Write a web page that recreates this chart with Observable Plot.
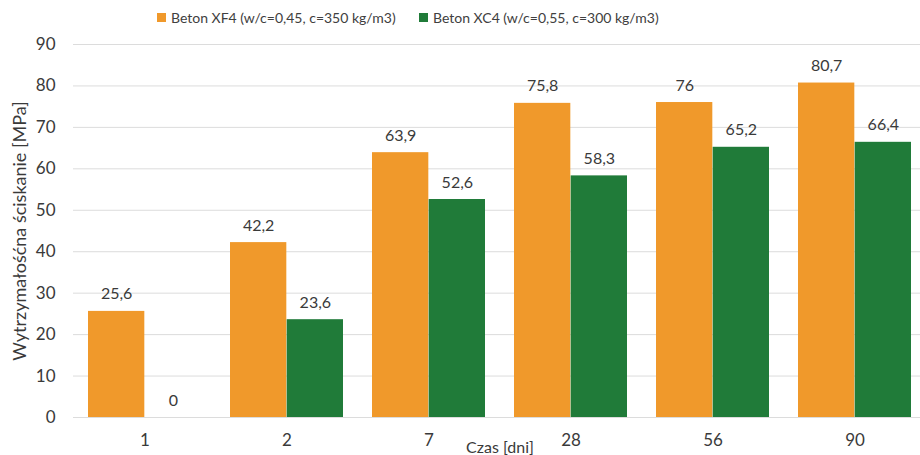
<!DOCTYPE html>
<html><head><meta charset="utf-8">
<script src="https://cdn.jsdelivr.net/npm/d3@7"></script>
<script src="https://cdn.jsdelivr.net/npm/@observablehq/plot@0.6"></script>
<style>
body{margin:0;background:#fff;font-family:Lato,"Open Sans",sans-serif;}
#legend{height:26px;position:relative;font-size:14px;color:#404040;width:920px;}
.item{position:absolute;top:9px;display:flex;align-items:center;white-space:nowrap;}
.sw{width:9px;height:9px;margin-right:5px;}
</style></head><body>
<div id="legend"></div><div id="chart"></div>
<script>
const days = ["1", "2", "7", "28", "56", "90"];
const seriesNames = ["Beton XF4 (w/c=0,45, c=350 kg/m3)", "Beton XC4 (w/c=0,55, c=300 kg/m3)"];
const xf4 = [25.6, 42.2, 63.9, 75.8, 76, 80.7];
const xc4 = [0, 23.6, 52.6, 58.3, 65.2, 66.4];
const colors = ["#F0992B", "#207B39"];
const yTicks = [0, 10, 20, 30, 40, 50, 60, 70, 80, 90];
const yLabel = "Wytrzymałośćna ściskanie [MPa]";
const xLabel = "Czas [dni]";

const legendLeft = [157, 419];
const legend = document.getElementById("legend");
seriesNames.forEach((n, i) => {
  const d = document.createElement("div");
  d.className = "item";
  d.style.left = legendLeft[i] + "px";
  d.innerHTML = `<span class="sw" style="background:${colors[i]}"></span><span>${n}</span>`;
  legend.appendChild(d);
});

const rowsA = days.map((d, i) => ({day: d, value: xf4[i]}));
const rowsB = days.map((d, i) => ({day: d, value: xc4[i]}));
const fmt = v => String(v).replace(".", ",");

const xRange = [79, 919.6];
const pIn = 0.205, pOut = 0.05;
const band = d3.scaleBand(days, xRange).paddingInner(pIn).paddingOuter(pOut);
const half = band.bandwidth() / 2;
const font = "Lato, 'Open Sans', sans-serif";
const ink = "#3a3a3a";

const chart = Plot.plot({
  width: 920, height: 429,
  marginTop: 18, marginBottom: 38, marginLeft: 73, marginRight: 0,
  style: {fontFamily: font, fontSize: "16px", color: ink, background: "#fff"},
  x: {domain: days, range: xRange, paddingInner: pIn, paddingOuter: pOut, label: null},
  y: {domain: [0, 90], label: null},
  marks: [
    Plot.gridY(yTicks, {stroke: "#dcdcdc", strokeOpacity: 1, strokeWidth: 1}),
    Plot.barY(rowsA, {x: "day", y: "value", fill: colors[0], insetRight: half}),
    Plot.barY(rowsB, {x: "day", y: "value", fill: colors[1], insetLeft: half}),
    Plot.text(rowsA, {x: "day", y: "value", text: d => fmt(d.value), dx: -half / 2, dy: -12, lineAnchor: "bottom", fill: ink, fontSize: 16}),
    Plot.text(rowsB, {x: "day", y: "value", text: d => fmt(d.value), dx: half / 2, dy: -12, lineAnchor: "bottom", fill: ink, fontSize: 16}),
    Plot.axisX({tickSize: 0, tickPadding: 16, label: null, fill: ink, fontSize: 17}),
    Plot.axisY(yTicks, {tickSize: 0, tickPadding: 18, label: null, fill: ink, fontSize: 17}),
    Plot.text([yLabel], {frameAnchor: "left", textAnchor: "middle", rotate: -90, dx: -53, fill: ink, fontSize: 18}),
    Plot.text([xLabel], {frameAnchor: "bottom", dy: 35, dx: 3, fill: ink, fontSize: 16})
  ]
});
document.getElementById("chart").appendChild(chart);
</script>
</body></html>
